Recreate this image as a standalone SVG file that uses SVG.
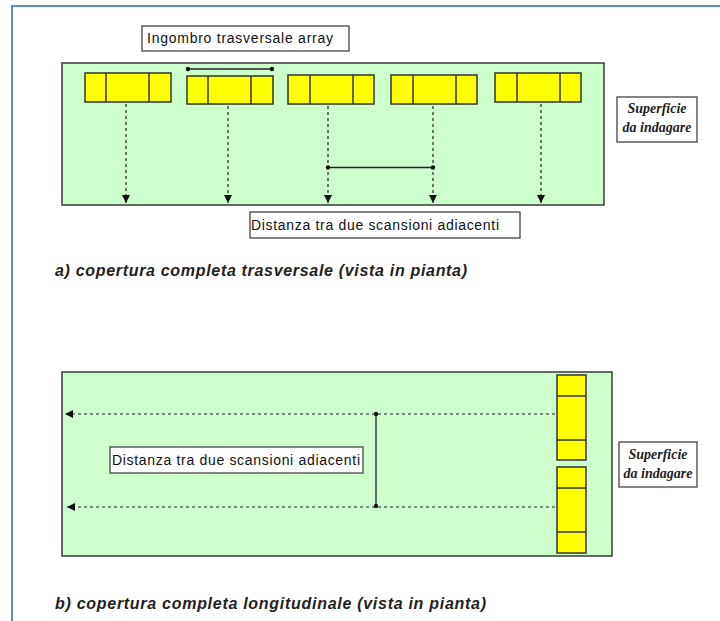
<svg xmlns="http://www.w3.org/2000/svg" width="720" height="621" viewBox="0 0 720 621">
<style>
.panel{fill:#ccffcc;stroke:#3a3a3a;stroke-width:1.5}
.arr{fill:#ffff00;stroke:#333;stroke-width:1.5}
.div{stroke:#333;stroke-width:1.5}
.lbl{fill:#fff;stroke:#444;stroke-width:1.3}
.t{font-family:"Liberation Sans",Arial,sans-serif;font-size:14px;fill:#111}
.sup{font-family:"Liberation Serif","Times New Roman",serif;font-size:14px;font-weight:bold;font-style:italic;fill:#222;text-anchor:middle}
.cap{font-family:"Liberation Sans",Arial,sans-serif;font-size:16px;font-weight:bold;font-style:italic;fill:#222}
.dash{stroke:#222;stroke-width:1.2;stroke-dasharray:3,3;fill:none}
.dim{stroke:#222;stroke-width:1.3;fill:none}
</style>
<defs>
<marker id="ah" viewBox="0 0 10 10" refX="10" refY="5" markerWidth="8" markerHeight="9" markerUnits="userSpaceOnUse" orient="auto">
<path d="M0,0 L10,5 L0,10 Z" fill="#111"/>
</marker>
</defs>
<rect x="0" y="0" width="720" height="621" fill="#fff"/>
<path d="M12,621 V6 H720" fill="none" stroke="#5b8fd0" stroke-width="2"/>

<!-- Panel a -->
<g id="panelA">
<rect class="panel" x="62" y="63" width="542" height="142"/>
</g>
<g id="arrayA1">
<rect class="arr" x="85" y="73" width="86" height="29"/>
<line class="div" x1="106" y1="73" x2="106" y2="102"/><line class="div" x1="149" y1="73" x2="149" y2="102"/>
</g>
<g id="arrayA2">
<rect class="arr" x="187" y="76" width="86" height="28"/>
<line class="div" x1="208" y1="76" x2="208" y2="104"/><line class="div" x1="251" y1="76" x2="251" y2="104"/>
</g>
<g id="arrayA3">
<rect class="arr" x="288" y="75" width="86" height="29"/>
<line class="div" x1="310" y1="75" x2="310" y2="104"/><line class="div" x1="353" y1="75" x2="353" y2="104"/>
</g>
<g id="arrayA4">
<rect class="arr" x="391" y="75" width="86" height="29"/>
<line class="div" x1="413" y1="75" x2="413" y2="104"/><line class="div" x1="456" y1="75" x2="456" y2="104"/>
</g>
<g id="arrayA5">
<rect class="arr" x="495" y="73" width="86" height="29"/>
<line class="div" x1="517" y1="73" x2="517" y2="102"/><line class="div" x1="560" y1="73" x2="560" y2="102"/>
</g>
<g id="labelIngombro">
<rect class="lbl" x="142" y="26" width="207" height="25"/>
<text class="t" x="147" y="43" textLength="186">Ingombro trasversale array</text>
</g>
<g id="labelDistA">
<rect class="lbl" x="250" y="212" width="270" height="26"/>
<text class="t" x="251" y="230" textLength="248">Distanza tra due scansioni adiacenti</text>
</g>
<g id="supA">
<rect class="lbl" x="617" y="97" width="80" height="45"/>
<text class="sup" x="657" y="113">Superficie</text>
<text class="sup" x="657" y="132">da indagare</text>
</g>
<text id="capA" class="cap" x="55" y="276" textLength="412">a) copertura completa trasversale (vista in pianta)</text>

<g id="connectorsA">
<line class="dash" x1="126" y1="104" x2="126" y2="203" marker-end="url(#ah)"/>
<line class="dash" x1="228" y1="106" x2="228" y2="203" marker-end="url(#ah)"/>
<line class="dash" x1="328" y1="106" x2="328" y2="203" marker-end="url(#ah)"/>
<line class="dash" x1="433" y1="106" x2="433" y2="203" marker-end="url(#ah)"/>
<line class="dash" x1="541" y1="104" x2="541" y2="203" marker-end="url(#ah)"/>
<line class="dim" x1="188" y1="69" x2="272" y2="69"/>
<circle cx="188" cy="69" r="2.2" fill="#111"/><circle cx="272" cy="69" r="2.2" fill="#111"/>
<line class="dim" x1="328" y1="167.5" x2="433" y2="167.5"/>
<circle cx="328" cy="167.5" r="2.2" fill="#111"/><circle cx="433" cy="167.5" r="2.2" fill="#111"/>
</g>

<!-- Panel b -->
<g id="panelB">
<rect class="panel" x="62" y="372" width="550" height="184"/>
</g>
<g id="arrayB1">
<rect class="arr" x="557" y="375" width="29" height="85"/>
<line class="div" x1="557" y1="396" x2="586" y2="396"/><line class="div" x1="557" y1="440" x2="586" y2="440"/>
</g>
<g id="arrayB2">
<rect class="arr" x="557" y="467" width="29" height="86"/>
<line class="div" x1="557" y1="488" x2="586" y2="488"/><line class="div" x1="557" y1="532" x2="586" y2="532"/>
</g>
<g id="labelDistB">
<rect class="lbl" x="110" y="447" width="253" height="26"/>
<text class="t" x="112" y="465" textLength="248">Distanza tra due scansioni adiacenti</text>
</g>
<g id="supB">
<rect class="lbl" x="619" y="442" width="78" height="45"/>
<text class="sup" x="658" y="459">Superficie</text>
<text class="sup" x="658" y="478">da indagare</text>
</g>
<text id="capB" class="cap" x="55" y="609" textLength="431">b) copertura completa longitudinale (vista in pianta)</text>

<g id="connectorsB">
<line class="dash" x1="555" y1="414" x2="65" y2="414" marker-end="url(#ah)"/>
<line class="dash" x1="555" y1="507" x2="67" y2="507" marker-end="url(#ah)"/>
<line class="dim" x1="376" y1="414" x2="376" y2="506"/>
<circle cx="376" cy="414" r="2.2" fill="#111"/><circle cx="376" cy="506" r="2.2" fill="#111"/>
</g>
</svg>
